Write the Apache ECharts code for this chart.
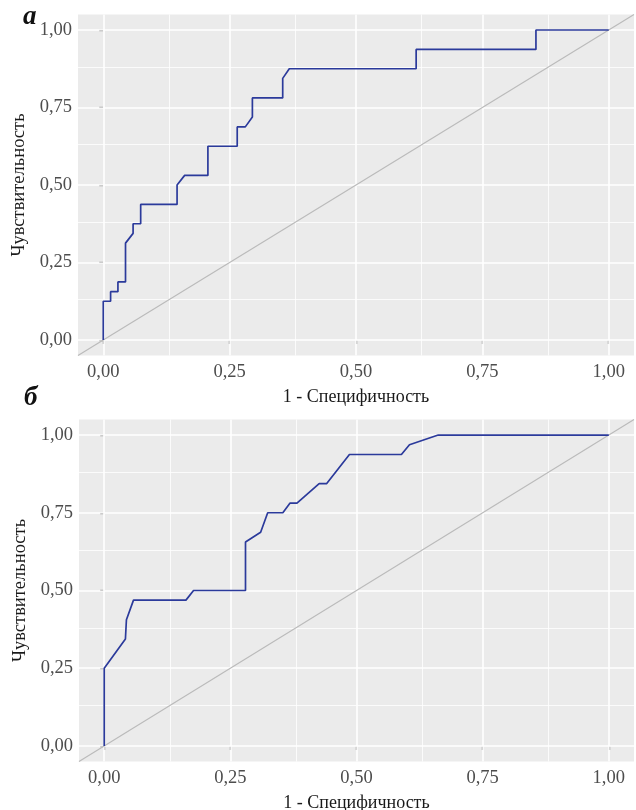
<!DOCTYPE html>
<html>
<head>
<meta charset="utf-8">
<script src="https://cdn.jsdelivr.net/npm/echarts@6/dist/echarts.min.js"></script>
<style>
html, body { margin: 0; padding: 0; background: #fff; }
#chart { width: 636px; height: 810px; }
</style>
</head>
<body>
<div id="chart"></div>
<script>
// ROC, панель а
var rocA_x = [0, 0, 0.0145, 0.0145, 0.029, 0.029, 0.044, 0.044, 0.059, 0.059, 0.074, 0.074, 0.146, 0.146, 0.161, 0.207, 0.207, 0.265, 0.265, 0.281, 0.295, 0.295, 0.355, 0.355, 0.368, 0.619, 0.619, 0.856, 0.856, 1.0];
var rocA_y = [0, 0.125, 0.125, 0.156, 0.156, 0.1875, 0.1875, 0.3125, 0.344, 0.375, 0.375, 0.4375, 0.4375, 0.5, 0.531, 0.531, 0.625, 0.625, 0.6875, 0.6875, 0.719, 0.781, 0.781, 0.844, 0.875, 0.875, 0.9375, 0.9375, 1, 1];
// ROC, панель б
var rocB_x = [0, 0, 0.042, 0.044, 0.058, 0.162, 0.177, 0.280, 0.280, 0.310, 0.324, 0.354, 0.368, 0.382, 0.426, 0.441, 0.486, 0.589, 0.605, 0.662, 1.0];
var rocB_y = [0, 0.25, 0.344, 0.406, 0.469, 0.469, 0.5, 0.5, 0.656, 0.6875, 0.75, 0.75, 0.781, 0.781, 0.844, 0.844, 0.9375, 0.9375, 0.969, 1, 1];
// диагональ
var diag = [-0.05, 1.05];
var majorTicks = [0, 0.25, 0.5, 0.75, 1];
var minorTicks = [0.125, 0.375, 0.625, 0.875];

var FONT = '"Liberation Serif", "DejaVu Serif", serif';

function pairs(xs, ys) {
	var out = [];
	for(var i = 0; i < xs.length; i++) {
		out.push([xs[i], ys[i]]);
	}
	return out;
}

function fmt(v) {
	return v.toFixed(2).replace('.', ',');
}

function gridLines() {
	var d = [];
	for(var i = 0; i < majorTicks.length; i++) {
		d.push({ xAxis: majorTicks[i], lineStyle: { width: 1.6 } });
		d.push({ yAxis: majorTicks[i], lineStyle: { width: 1.6 } });
	}
	for(var j = 0; j < minorTicks.length; j++) {
		d.push({ xAxis: minorTicks[j], lineStyle: { width: 0.8 } });
		d.push({ yAxis: minorTicks[j], lineStyle: { width: 0.8 } });
	}
	return d;
}

function xAx(idx) {
	return {
		type: 'value', gridIndex: idx, min: -0.05, max: 1.05,
		name: '1 - Специфичность', nameLocation: 'middle', nameGap: 33,
		nameTextStyle: { fontFamily: FONT, fontSize: 18, color: '#1a1a1a' },
		axisLine: { show: false },
		axisTick: { show: true, length: 4, customValues: majorTicks, lineStyle: { color: '#333', width: 1.2 } },
		axisLabel: { customValues: majorTicks, formatter: fmt, margin: 7, fontFamily: FONT, fontSize: 18.5, color: '#4d4d4d' },
		splitLine: { show: false }
	};
}

function yAx(idx) {
	return {
		type: 'value', gridIndex: idx, min: -0.05, max: 1.05,
		name: 'Чувствительность', nameLocation: 'middle', nameGap: 44,
		nameTextStyle: { fontFamily: FONT, fontSize: 18.5, color: '#1a1a1a' },
		axisLine: { show: false },
		axisTick: { show: true, length: 4, customValues: majorTicks, lineStyle: { color: '#333', width: 1.2 } },
		axisLabel: { customValues: majorTicks, formatter: fmt, margin: 6, fontFamily: FONT, fontSize: 18.5, color: '#4d4d4d' },
		splitLine: { show: false }
	};
}

function seriesFor(idx, xs, ys) {
	return [{
		type: 'line', xAxisIndex: idx, yAxisIndex: idx, data: [], silent: true,
		markLine: {
			silent: true, symbol: ['none', 'none'], z: 1,
			label: { show: false },
			lineStyle: { color: '#ffffff', type: 'solid' },
			emphasis: { disabled: true },
			data: gridLines()
		}
	}, {
		type: 'line', xAxisIndex: idx, yAxisIndex: idx, z: 8, silent: true,
		showSymbol: false, symbol: 'none',
		lineStyle: { color: '#bababa', width: 1.1 },
		data: pairs(diag, diag)
	}, {
		type: 'line', xAxisIndex: idx, yAxisIndex: idx, z: 10, silent: true,
		showSymbol: false, symbol: 'none',
		lineStyle: { color: '#2b3a9b', width: 1.7 },
		data: pairs(xs, ys)
	}];
}

var myChart = echarts.init(document.getElementById('chart'));
var option = {
	animation: false,
	grid: [
		{ left: 78, top: 14.5, width: 556, height: 341, outerBoundsMode: 'none', show: true, backgroundColor: '#ebebeb', borderWidth: 0 },
		{ left: 79, top: 419.5, width: 555, height: 342, outerBoundsMode: 'none', show: true, backgroundColor: '#ebebeb', borderWidth: 0 }
	],
	xAxis: [xAx(0), xAx(1)],
	yAxis: [yAx(0), yAx(1)],
	graphic: [
		{ type: 'text', left: 23, top: 4, style: { text: 'а', fontFamily: FONT, fontSize: 27, fontWeight: 'bold', fontStyle: 'italic', fill: '#111' } },
		{ type: 'text', left: 24, top: 385, style: { text: 'б', fontFamily: FONT, fontSize: 27, fontWeight: 'bold', fontStyle: 'italic', fill: '#111' } }
	],
	series: seriesFor(0, rocA_x, rocA_y).concat(seriesFor(1, rocB_x, rocB_y))
};
myChart.setOption(option);
</script>
</body>
</html>
